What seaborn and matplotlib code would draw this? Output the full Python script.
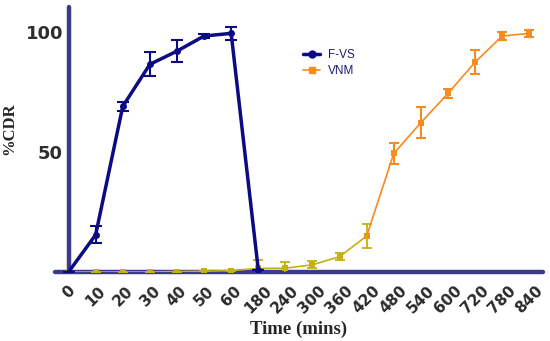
import numpy as np
import pandas as pd
import matplotlib
matplotlib.use("Agg")
import matplotlib.pyplot as plt
import seaborn as sns
from matplotlib.lines import Line2D

times = ["0", "10", "20", "30", "40", "50", "60", "180", "240", "300", "360",
         "420", "480", "540", "600", "720", "780", "840"]
fvs_times = ["0", "10", "20", "30", "40", "50", "60", "180"]
fvs_mean = [0, 15.5, 69, 86.5, 92, 98.3, 99.4, 1.0]
fvs_err = [0, 3.5, 2, 5, 4.7, 1, 2.8, 0]
vnm_mean = [0, 0, 0, 0, 0.2, 0.3, 0.6, 1.5, 1.6, 3.0, 6.4, 15.0, 49.4, 62.2,
            74.4, 87.4, 98.3, 99.4]
vnm_err = [0, 0, 0, 0, 0, 0, 0, 3.5, 2.5, 1.5, 1.5, 5, 4.5, 6.5, 2, 4.9, 1.5, 1.5]

sns.set_style("white")
plt.rcParams['font.family'] = ['Liberation Sans', 'DejaVu Sans']

pos = {t: i for i, t in enumerate(times)}
df_f = pd.DataFrame({"x": [pos[t] for t in fvs_times], "y": fvs_mean, "e": fvs_err})
df_v = pd.DataFrame({"x": [pos[t] for t in times], "y": vnm_mean, "e": vnm_err})

navy = "#0b0b82"
orange = "#f68b1f"
olive = "#c4b10c"
spine = "#3b3b8c"

fig = plt.figure(figsize=(5.5, 3.41), dpi=100)
ax = fig.add_axes([0.1, 0.2023, 0.887, 0.778])

split = pos["420"]
df_v_low = df_v[df_v.x <= split]
df_v_high = df_v[df_v.x >= split]

sns.lineplot(data=df_v_low, x="x", y="y", ax=ax, color=olive, lw=1.2,
             marker="s", markersize=4, markeredgewidth=0, zorder=3)
sns.lineplot(data=df_v_high, x="x", y="y", ax=ax, color=orange, lw=1.2,
             marker="s", markersize=4, markeredgewidth=0, zorder=3)
ax.errorbar(df_v_low.x, df_v_low.y, yerr=df_v_low.e, fmt="none", ecolor=olive,
            elinewidth=1.3, capsize=3.5, capthick=1.3, zorder=3)
dh = df_v[df_v.x > split]
ax.errorbar(dh.x, dh.y, yerr=dh.e, fmt="none", ecolor=orange,
            elinewidth=1.5, capsize=3.5, capthick=1.5, zorder=3)

sns.lineplot(data=df_f, x="x", y="y", ax=ax, color=navy, lw=2.5,
             marker="o", markersize=5, markeredgewidth=0, zorder=4)
ax.errorbar(df_f.x, df_f.y, yerr=df_f.e, fmt="none", ecolor=navy,
            elinewidth=1.5, capsize=4, capthick=1.5, zorder=4)

ax.set_xlim(-0.5, len(times) - 0.5)
ax.set_ylim(0, 110.5)
ax.spines['right'].set_visible(False)
ax.spines['top'].set_visible(False)
ax.spines['left'].set_position(('data', 0))
for s in ['left', 'bottom']:
    ax.spines[s].set_color(spine)
    ax.spines[s].set_linewidth(3.2)
    ax.spines[s].set_capstyle('round')
    ax.spines[s].set_zorder(2)

ax.set_xticks(range(len(times)))
ax.set_xticklabels(times, rotation=45, ha="center", va="top",
                   fontsize=11, fontweight="bold", color="#2a2a2a",
                   family="DejaVu Sans")
ax.set_yticks([50, 100])
ax.set_yticklabels(["50", "100"], fontsize=13, fontweight="bold", color="#2e2e2e",
                   family="DejaVu Sans")
ax.tick_params(axis="x", direction="out", length=3, width=3, color=spine, pad=5)
ax.tick_params(axis="y", direction="out", length=3, width=3, color=spine, pad=1)

ax.set_xlabel("Time (mins)", fontsize=13.5, fontweight="bold",
              family=["Liberation Serif", "DejaVu Serif"], labelpad=3)
ax.set_ylabel("%CDR", fontsize=12, fontweight="bold",
              family=["Liberation Serif", "DejaVu Serif"], labelpad=6)
ax.yaxis.label.set_position((0, 0.54))

handles = [Line2D([], [], color=navy, lw=2.5, marker="o", markersize=5),
           Line2D([], [], color=orange, lw=1.2, marker="s", markersize=4)]
leg = ax.legend(handles, ["F-VS", "VNM"], loc="upper left",
                bbox_to_anchor=(0.486, 0.88), frameon=False, fontsize=8.5,
                handlelength=1.5, handletextpad=0.6, labelspacing=0.3)
for t in leg.get_texts():
    t.set_color("#1c1c70")

fig.savefig("out.png", dpi=100)
